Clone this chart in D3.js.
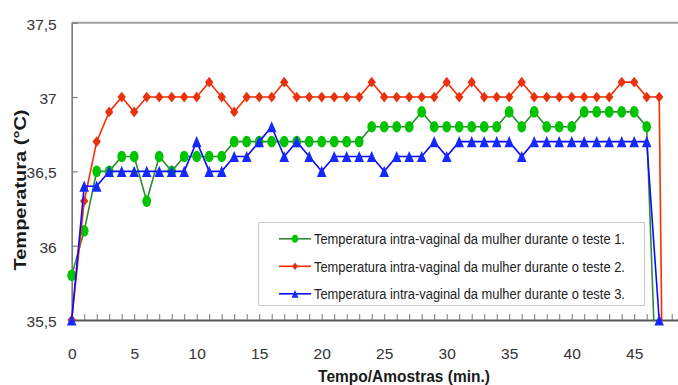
<!DOCTYPE html>
<html>
<head>
<meta charset="utf-8">
<script src="https://cdn.jsdelivr.net/npm/d3@7"></script>
<style>
  html, body { margin: 0; padding: 0; background: #fff; }
  svg { display: block; }
  text { font-family: "Liberation Sans", Arial, sans-serif; }
</style>
</head>
<body>
<svg id="chart" width="678" height="385"></svg>
<script>
// ---- Data ----
const minutes = d3.range(0, 49); // 0..48 samples (last ones fall off the scale)
const seriesNames = [
  "Temperatura intra-vaginal da mulher durante o teste 1.",
  "Temperatura intra-vaginal da mulher durante o teste 2.",
  "Temperatura intra-vaginal da mulher durante o teste 3."
];
const teste1 = [35.8, 36.1, 36.5, 36.5, 36.6, 36.6, 36.3, 36.6, 36.5, 36.6,
                36.6, 36.6, 36.6, 36.7, 36.7, 36.7, 36.7, 36.7, 36.7, 36.7,
                36.7, 36.7, 36.7, 36.7, 36.8, 36.8, 36.8, 36.8, 36.9, 36.8,
                36.8, 36.8, 36.8, 36.8, 36.8, 36.9, 36.8, 36.9, 36.8, 36.8,
                36.8, 36.9, 36.9, 36.9, 36.9, 36.9, 36.8, 34.5];
const teste2 = [35.5, 36.3, 36.7, 36.9, 37.0, 36.9, 37.0, 37.0, 37.0, 37.0,
                37.0, 37.1, 37.0, 36.9, 37.0, 37.0, 37.0, 37.1, 37.0, 37.0,
                37.0, 37.0, 37.0, 37.0, 37.1, 37.0, 37.0, 37.0, 37.0, 37.0,
                37.1, 37.0, 37.1, 37.0, 37.0, 37.0, 37.1, 37.0, 37.0, 37.0,
                37.0, 37.0, 37.0, 37.0, 37.1, 37.1, 37.0, 37.0, 29.5];
const teste3 = [35.5, 36.4, 36.4, 36.5, 36.5, 36.5, 36.5, 36.5, 36.5, 36.5,
                36.7, 36.5, 36.5, 36.6, 36.6, 36.7, 36.8, 36.6, 36.7, 36.6,
                36.5, 36.6, 36.6, 36.6, 36.6, 36.5, 36.6, 36.6, 36.6, 36.7,
                36.6, 36.7, 36.7, 36.7, 36.7, 36.7, 36.6, 36.7, 36.7, 36.7,
                36.7, 36.7, 36.7, 36.7, 36.7, 36.7, 36.7, 35.5];
const yTickValues = [35.5, 36, 36.5, 37, 37.5];
const xLabelTicks = [0, 5, 10, 15, 20, 25, 30, 35, 40, 45];
const xMinorTicks = d3.range(0, 50);
const xTitle = "Tempo/Amostras (min.)";
const yTitle = "Temperatura (°C)";

// ---- Styles ----
const styles = [
  { line: "#2f8a2f", fill: "#00c400", shape: "circle" },
  { line: "#ff2a00", fill: "#e8320e", shape: "diamond" },
  { line: "#0a0aff", fill: "#1428ff", shape: "triangle" }
];

const svg = d3.select("#chart");
const x = d3.scaleLinear().domain([0, 50]).range([71.7, 696.7]);
const y = d3.scaleLinear().domain([35.5, 37.5]).range([320, 22.7]);
const fmt = d => String(d).replace(".", ",");

// helper: horizontally condensed text fitted to a target width
function fittedText(parent, tx, ty, str, size, weight, fill, targetW, anchor) {
  const g = parent.append("g");
  const t = g.append("text")
    .attr("font-size", size).attr("font-weight", weight).attr("fill", fill)
    .attr("text-anchor", anchor).text(str);
  const w = t.node().getComputedTextLength();
  const sx = Math.min(1, targetW / w);
  g.attr("transform", `translate(${tx},${ty}) scale(${sx},1)`);
  return g;
}

// clip for lines
svg.append("defs").append("clipPath").attr("id", "plotClip")
  .append("rect")
  .attr("x", x(0) - 3).attr("y", y(37.5))
  .attr("width", 700).attr("height", y(35.5) - y(37.5) + 0.5);

// top border
svg.append("line")
  .attr("x1", x(0)).attr("x2", 678)
  .attr("y1", y(37.5)).attr("y2", y(37.5))
  .attr("stroke", "#a0a0a0").attr("stroke-width", 2);

// y axis
const yAxis = svg.append("g").attr("transform", `translate(${x(0)},0)`)
  .call(d3.axisLeft(y).tickValues(yTickValues).tickFormat(fmt)
    .tickSizeInner(-6).tickSizeOuter(0).tickPadding(15));
yAxis.select(".domain").attr("stroke", "#7a7a7a").attr("stroke-width", 1.6);
yAxis.selectAll(".tick line").attr("stroke", "#7a7a7a").attr("stroke-width", 1.2);
yAxis.selectAll(".tick text").attr("font-size", 15.5).attr("fill", "#333")
  .attr("dy", "0.42em").style("font-family", "'Liberation Sans', Arial, sans-serif");

// x axis minor ticks
const xAxisMinor = svg.append("g").attr("transform", `translate(0,${y(35.5)})`)
  .call(d3.axisBottom(x).tickValues(xMinorTicks).tickFormat("")
    .tickSizeInner(-6).tickSizeOuter(0));
xAxisMinor.select(".domain").attr("stroke", "#555").attr("stroke-width", 1.8);
xAxisMinor.selectAll(".tick line").attr("stroke", "#777").attr("stroke-width", 1);

// x axis labels
const xAxisLab = svg.append("g").attr("transform", `translate(0,${y(35.5)})`)
  .call(d3.axisBottom(x).tickValues(xLabelTicks).tickFormat(fmt)
    .tickSize(0).tickPadding(28));
xAxisLab.select(".domain").remove();
xAxisLab.selectAll(".tick text").attr("font-size", 15.5).attr("fill", "#333")
  .style("font-family", "'Liberation Sans', Arial, sans-serif");

// titles
fittedText(svg, 404, 382, xTitle, 17, "bold", "#1a1a1a", 172, "middle");

svg.append("text")
  .attr("transform", "translate(26,190) scale(0.8,1) rotate(-90)")
  .attr("text-anchor", "middle")
  .attr("font-size", 20).attr("font-weight", "bold").attr("fill", "#1a1a1a")
  .text(yTitle);

// marker drawing
function drawMarker(sel, shape, fill, s) {
  if (shape === "circle") {
    sel.append("ellipse").attr("rx", 4.4 * s).attr("ry", 5.8 * s).attr("fill", fill);
  } else if (shape === "diamond") {
    const w = 4.2 * s, h = 5.4 * s;
    sel.append("path").attr("d", `M0,${-h}L${w},0L0,${h}L${-w},0Z`).attr("fill", fill);
  } else {
    const w = 4.8 * s, h = 5.6 * s;
    sel.append("path").attr("d", `M0,${-h}L${w},${h}L${-w},${h}Z`).attr("fill", fill);
  }
}

const allSeries = [teste1, teste2, teste3];
const line = d3.line().x((d, i) => x(minutes[i])).y(d => y(d));

allSeries.forEach((vals, k) => {
  const st = styles[k];
  const g = svg.append("g");
  g.append("path")
    .datum(vals)
    .attr("d", line)
    .attr("fill", "none")
    .attr("stroke", st.line)
    .attr("stroke-width", 1.6)
    .attr("clip-path", "url(#plotClip)");
  vals.forEach((v, i) => {
    if (v < 35.5 || v > 37.5) return;
    const m = g.append("g").attr("transform", `translate(${x(minutes[i])},${y(v)})`);
    drawMarker(m, st.shape, st.fill, 1);
  });
});

// legend
const legend = svg.append("g");
legend.append("rect")
  .attr("x", 258.5).attr("y", 222.5).attr("width", 386).attr("height", 83)
  .attr("fill", "#fff").attr("stroke", "#c8c8c8").attr("stroke-width", 1);
const legendBaselines = [244.3, 271.8, 299.3];
seriesNames.forEach((name, k) => {
  const st = styles[k];
  const cy = legendBaselines[k] - 5.5;
  legend.append("line")
    .attr("x1", 279).attr("x2", 311).attr("y1", cy).attr("y2", cy)
    .attr("stroke", st.line).attr("stroke-width", 1.6);
  const m = legend.append("g").attr("transform", `translate(295,${cy})`);
  drawMarker(m, st.shape, st.fill, 0.7);
  fittedText(legend, 314, legendBaselines[k], name, 15.5, "normal", "#222", 311, "start");
});
</script>
</body>
</html>
